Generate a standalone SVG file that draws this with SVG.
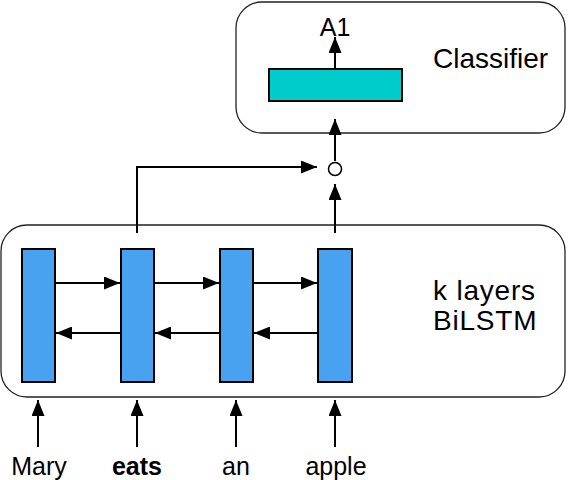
<svg xmlns="http://www.w3.org/2000/svg" width="568" height="480" viewBox="0 0 568 480">
<style>
.box{fill:#fff;stroke:#222;stroke-width:1.3}
.cell{fill:#49A2F0;stroke:#000;stroke-width:2}
.cls{fill:#00CCCC;stroke:#000;stroke-width:2}
.ln{fill:none;stroke:#000;stroke-width:2}
text{font-family:"Liberation Sans",Arial,sans-serif;font-size:25px;fill:#000}
.big{font-size:28px}
.lab{font-size:28px;letter-spacing:0.8px}
</style>
<defs>
<marker id="ah" markerWidth="16" markerHeight="13" refX="16" refY="6.5" orient="auto" markerUnits="userSpaceOnUse">
<path d="M0,0 L16,6.5 L0,13 Z" fill="#000"/>
</marker>
</defs>
<g id="classifier">
<rect class="box" x="236" y="2" width="329" height="131" rx="26"/>
<rect class="cls" x="269" y="69" width="133" height="32"/>
<text x="335" y="36" text-anchor="middle">A1</text>
<text class="big" x="433" y="68">Classifier</text>
</g>
<g id="bilstm">
<rect class="box" x="1" y="225" width="564" height="172" rx="26"/>
<text class="lab" x="433" y="300">k layers</text>
<text class="lab" x="433" y="330">BiLSTM</text>
</g>
<g id="cell1"><rect class="cell" x="22" y="249" width="33" height="133"/></g>
<g id="cell2"><rect class="cell" x="121" y="249" width="33" height="133"/></g>
<g id="cell3"><rect class="cell" x="220" y="249" width="33" height="133"/></g>
<g id="cell4"><rect class="cell" x="318" y="249" width="34" height="133"/></g>
<g id="concat"><circle cx="335" cy="169" r="6.5" fill="#fff" stroke="#000" stroke-width="1.5"/></g>
<g id="words">
<text x="39" y="475" text-anchor="middle">Mary</text>
<text x="137" y="475" text-anchor="middle" font-weight="bold">eats</text>
<text x="236" y="475" text-anchor="middle">an</text>
<text x="336" y="475" text-anchor="middle">apple</text>
</g>
<g id="connectors" class="ln">
<line class="ln" x1="335" y1="69" x2="335" y2="37" marker-end="url(#ah)"/>
<line class="ln" x1="335" y1="161" x2="335" y2="119" marker-end="url(#ah)"/>
<line class="ln" x1="335" y1="233" x2="335" y2="184" marker-end="url(#ah)"/>
<polyline class="ln" points="137,233 137,167 317,167" marker-end="url(#ah)"/>
<line class="ln" x1="55" y1="283" x2="120" y2="283" marker-end="url(#ah)"/>
<line class="ln" x1="154" y1="283" x2="219" y2="283" marker-end="url(#ah)"/>
<line class="ln" x1="253" y1="283" x2="317" y2="283" marker-end="url(#ah)"/>
<line class="ln" x1="318" y1="333" x2="254" y2="333" marker-end="url(#ah)"/>
<line class="ln" x1="220" y1="333" x2="155" y2="333" marker-end="url(#ah)"/>
<line class="ln" x1="121" y1="333" x2="56" y2="333" marker-end="url(#ah)"/>
<line class="ln" x1="38" y1="447" x2="38" y2="400" marker-end="url(#ah)"/>
<line class="ln" x1="137" y1="447" x2="137" y2="400" marker-end="url(#ah)"/>
<line class="ln" x1="236" y1="447" x2="236" y2="400" marker-end="url(#ah)"/>
<line class="ln" x1="335" y1="447" x2="335" y2="400" marker-end="url(#ah)"/>
</g>
</svg>
